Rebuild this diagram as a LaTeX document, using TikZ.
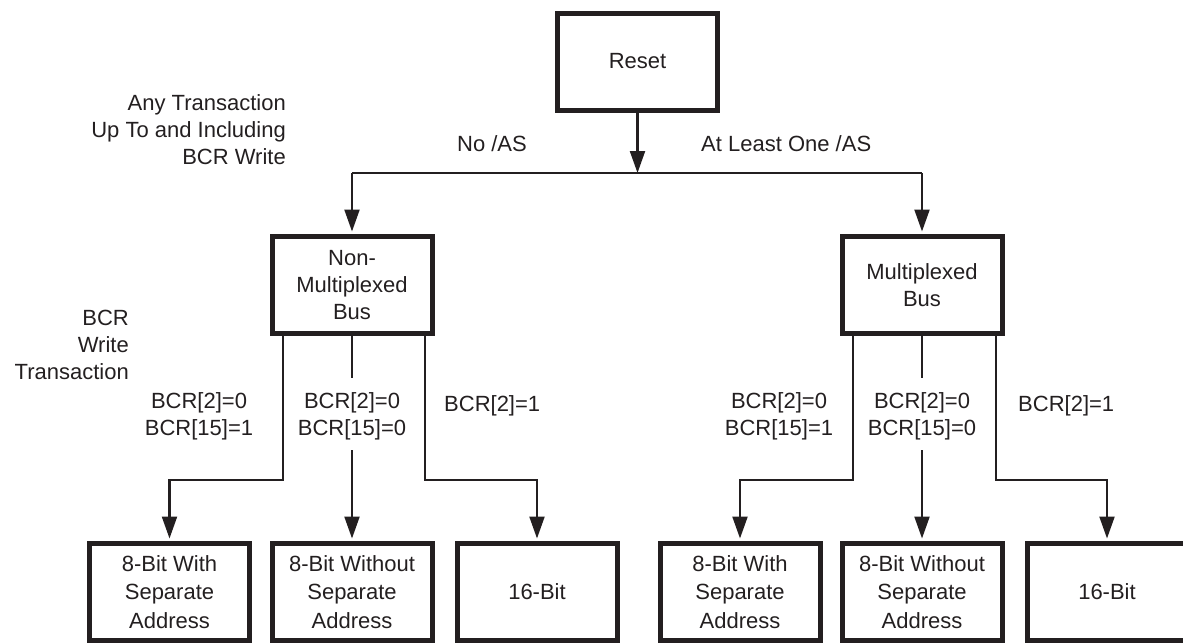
\documentclass[tikz,border=0pt]{standalone}
\usepackage{fontspec}
\setmainfont{Liberation Sans}
\usetikzlibrary{arrows.meta}
\definecolor{ink}{HTML}{231F20}
\newcommand\labfont{\fontsize{22}{27}\selectfont}
\newcommand\botfont{\fontsize{22}{28.5}\selectfont}
\begin{document}
\begin{tikzpicture}[x=1pt,y=-1pt,
  box/.style={draw=ink, line width=5pt, minimum width=160pt, minimum height=97pt,
              inner sep=0pt, align=center, text=ink, font=\labfont},
  botbox/.style={box, font=\botfont},
  conn/.style={draw=ink, line width=2.2pt},
  arr/.style={conn, -{Triangle[length=22pt,width=15pt]}, shorten >=2.5pt},
  lab/.style={text=ink, font=\labfont, inner sep=0pt, align=center}]
\useasboundingbox (0,0) rectangle (1183,643);

% boxes
\node[box] (rs) at (637.5,61.5) {Reset};
\node[box] (nm) at (352,285) {Non-\\Multiplexed\\Bus};
\node[box] (mx) at (922,285) {Multiplexed\\Bus};
\node[botbox] (b1) at (169.5,592) {8-Bit With\\Separate\\Address};
\node[botbox] (b2) at (352,592) {8-Bit Without\\Separate\\Address};
\node[botbox] (b3) at (537,592) {16-Bit};
\node[botbox] (b4) at (740,592) {8-Bit With\\Separate\\Address};
\node[botbox] (b5) at (922,592) {8-Bit Without\\Separate\\Address};
\node[botbox] (b6) at (1107,592) {16-Bit};

% top split
\coordinate (j0) at (637.5,173);
\draw[conn] (nm.north |- j0) -- (mx.north |- j0);
\draw[arr, shorten >=0pt] (rs.south) -- (j0);
\draw[arr] (nm.north |- j0) -- (nm.north);
\draw[arr] (mx.north |- j0) -- (mx.north);

% left group
\coordinate (nL) at (283,480);
\coordinate (nR) at (425,480);
\coordinate (nMa) at (352,378);
\coordinate (nMb) at (352,450);
\draw[arr] (nm.south -| nL) -- (nL) -| (b1.north);
\draw[conn] (nm.south) -- (nMa);
\draw[arr] (nMb) -- (b2.north);
\draw[arr] (nm.south -| nR) -- (nR) -| (b3.north);

% right group
\coordinate (mL) at (853,480);
\coordinate (mR) at (996,480);
\coordinate (mMa) at (922,378);
\coordinate (mMb) at (922,450);
\draw[arr] (mx.south -| mL) -- (mL) -| (b4.north);
\draw[conn] (mx.south) -- (mMa);
\draw[arr] (mMb) -- (b5.north);
\draw[arr] (mx.south -| mR) -- (mR) -| (b6.north);

% labels
\node[lab, anchor=base] (lno) at (492,151) {No /AS};
\node[lab, anchor=base west] (lyes) at (701,151) {At Least One /AS};
\node[lab, align=right, anchor=east] (lany) at (286,130) {Any Transaction\\Up To and Including\\BCR Write};
\node[lab, align=right, anchor=east] (lbcr) at (129,345) {BCR\\Write\\Transaction};
\node[lab] (l1) at (199,416) {BCR[2]=0\\BCR[15]=1};
\node[lab] (l2) at (352,416) {BCR[2]=0\\BCR[15]=0};
\node[lab, anchor=base west] (l3) at (444,411) {BCR[2]=1};
\node[lab] (r1) at (779,416) {BCR[2]=0\\BCR[15]=1};
\node[lab] (r2) at (922,416) {BCR[2]=0\\BCR[15]=0};
\node[lab, anchor=base west] (r3) at (1018,411) {BCR[2]=1};
\end{tikzpicture}
\end{document}
